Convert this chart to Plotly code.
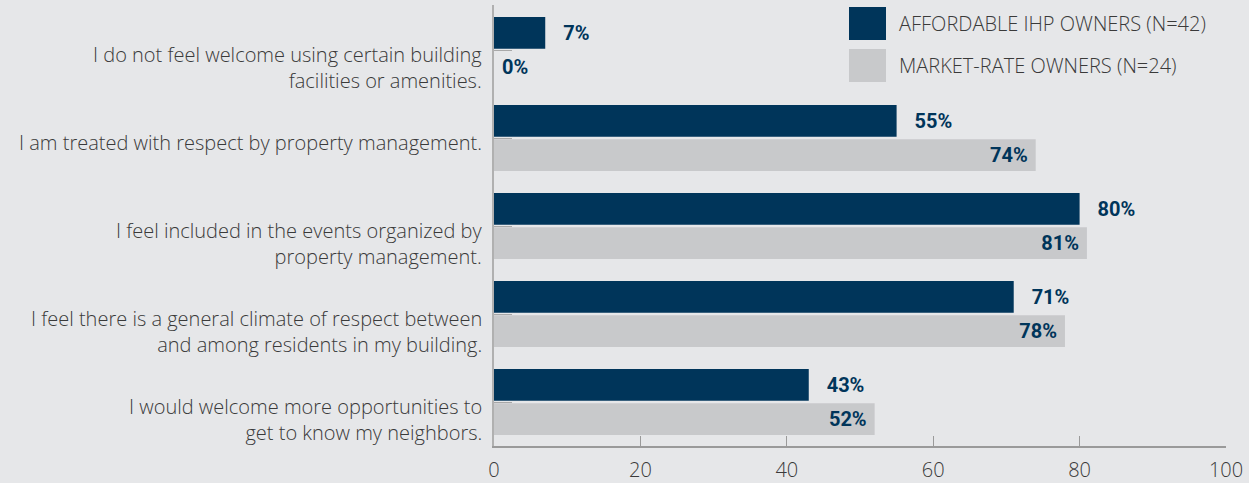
import plotly.graph_objects as go

categories = [
    "I do not feel welcome using certain building<br>facilities or amenities.",
    "I am treated with respect by property management.",
    "I feel included in the events organized by<br>property management.",
    "I feel there is a general climate of respect between<br>and among residents in my building.",
    "I would welcome more opportunities to<br>get to know my neighbors.",
]
series_names = ["AFFORDABLE IHP OWNERS (N=42)", "MARKET-RATE OWNERS (N=24)"]
affordable = [7, 55, 80, 71, 43]
market = [0, 74, 81, 78, 52]
x_ticks = [0, 20, 40, 60, 80, 100]

NAVY = "#00355a"
GRAY = "#c8c9cb"
BG = "#e6e7e9"
TXT = "#3a3a3a"
FONT = "Open Sans"
BFONT = "Roboto"
NB = "\u00a0"

fig = go.Figure()
fig.add_trace(go.Bar(
    y=categories, x=affordable, orientation="h", name=series_names[0],
    marker=dict(color=NAVY, line=dict(width=0)),
    text=[NB * 3 + f"{v}%" for v in affordable], textposition="outside",
    textfont=dict(color=NAVY, size=20, family=BFONT, weight="bold"),
    cliponaxis=False, showlegend=False,
))
mpos = ["outside" if v < 10 else "inside" for v in market]
mtext = [(NB * 1 + f"{v}%") if v < 10 else (f"{v}%" + NB * 1) for v in market]
fig.add_trace(go.Bar(
    y=categories, x=market, orientation="h", name=series_names[1],
    marker=dict(color=GRAY, line=dict(width=0)),
    text=mtext, textposition=mpos, insidetextanchor="end",
    textfont=dict(color=NAVY, size=20, family=BFONT, weight="bold"),
    cliponaxis=False, showlegend=False,
))

# category labels: first line slightly below the category centre, further lines below
for cat in categories:
    fig.add_annotation(xref="paper", yref="y", x=-11 / 732, y=cat, text=cat,
                       showarrow=False, xanchor="right", yanchor="top",
                       align="right", yshift=10, borderpad=0,
                       font=dict(family=FONT, size=20, color=TXT, weight=300))

# legend drawn as swatches + labels
PT, PH = 5, 441
for i, (name, col) in enumerate(zip(series_names, [NAVY, GRAY])):
    top = 7 + 42 * i
    y0 = 1 - (top - PT) / PH
    fig.add_shape(type="rect", xref="paper", yref="paper",
                  x0=(849 - 494) / 732, x1=(886 - 494) / 732,
                  y0=y0 - 33 / PH, y1=y0, fillcolor=col, line=dict(width=0))
    fig.add_annotation(xref="paper", yref="paper", x=(897 - 494) / 732,
                       y=y0 - 16.5 / PH, text=name, showarrow=False,
                       xanchor="left", yanchor="middle",
                       font=dict(family=FONT, size=20, color=TXT, weight=300))

fig.update_layout(
    width=1249, height=483,
    margin=dict(l=494, r=23, t=PT, b=483 - PT - PH, autoexpand=False),
    paper_bgcolor=BG, plot_bgcolor=BG,
    barmode="group", bargap=0.22, bargroupgap=0.07,
    font=dict(family=FONT, color=TXT, size=20, weight=300),
    xaxis=dict(range=[0, 100], tickvals=x_ticks, showgrid=False, zeroline=False,
               showline=True, linecolor="#9a9a9a", linewidth=2,
               ticks="inside", ticklen=10, tickcolor="#9a9a9a", tickwidth=1,
               tickfont=dict(size=20, color=TXT, weight=300), ticklabelstandoff=5,
               automargin=False),
    yaxis=dict(autorange="reversed", showgrid=False, zeroline=False,
               showline=True, linecolor="#b0b0b0", linewidth=2,
               ticks="inside", ticklen=18, tickcolor="#a8a8a8",
               showticklabels=False, automargin=False),
)
fig.write_html("out.html", config={"displayModeBar": False})

with open("out.html", encoding="utf-8") as f:
    html = f.read()
html = html.replace("<body>", '<body style="margin:0;padding:0;overflow:hidden">', 1)
with open("out.html", "w", encoding="utf-8") as f:
    f.write(html)
